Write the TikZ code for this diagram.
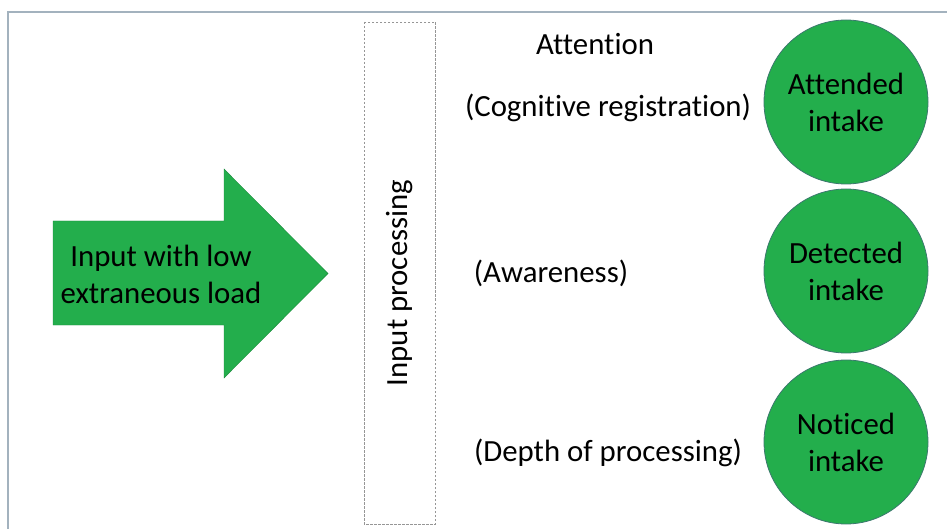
\documentclass[tikz,border=0pt]{standalone}
\usepackage{fontspec}
\setmainfont{Carlito}[Ligatures={NoCommon}]
\definecolor{boxgreen}{RGB}{35,174,76}
\definecolor{edgegreen}{RGB}{60,120,110}
\definecolor{framegray}{RGB}{163,178,190}
\definecolor{dashgray}{RGB}{150,150,150}
\begin{document}
\begin{tikzpicture}[x=1pt,y=-1pt,
  every node/.style={font=\fontsize{30.8}{37}\selectfont, text=black, inner sep=0pt},
  intake/.style={circle, fill=boxgreen, draw=edgegreen, line width=0.8pt, minimum size=164pt, align=center},
  label/.style={anchor=center},
  procbox/.style={draw=dashgray, dashed, dash pattern=on 2.5pt off 1.5pt, line width=0.9pt}]
\useasboundingbox (0,0) rectangle (947,529);
% frame
\draw[framegray, line width=2pt] (8,529) -- (8,12) -- (947,12);
% arrow
\draw[fill=boxgreen, draw=boxgreen!80!black, line width=0.4pt]
  (53,221) -- (224,221) -- (224,169) -- (328,273.5) -- (224,378) -- (224,325) -- (53,325) -- cycle;
\node[align=center] (input) at (161,274) {Input with low\\extraneous load};
% dashed processing box
\draw[procbox] (364,22) rectangle (435,524);
\node[rotate=90] (proc) at (400,283) {Input processing};
% labels
\node[label] (att) at (595,44) {Attention};
\node[label] (cog) at (608,108) {(Cognitive registration)};
\node[label] (aw) at (551,273) {(Awareness)};
\node[label] (dep) at (608,453) {(Depth of processing)};
% circles
\node[intake] (c1) at (846,102) {Attended\\intake};
\node[intake] (c2) at (846,271) {Detected\\intake};
\node[intake] (c3) at (846,442) {Noticed\\intake};
\end{tikzpicture}
\end{document}
